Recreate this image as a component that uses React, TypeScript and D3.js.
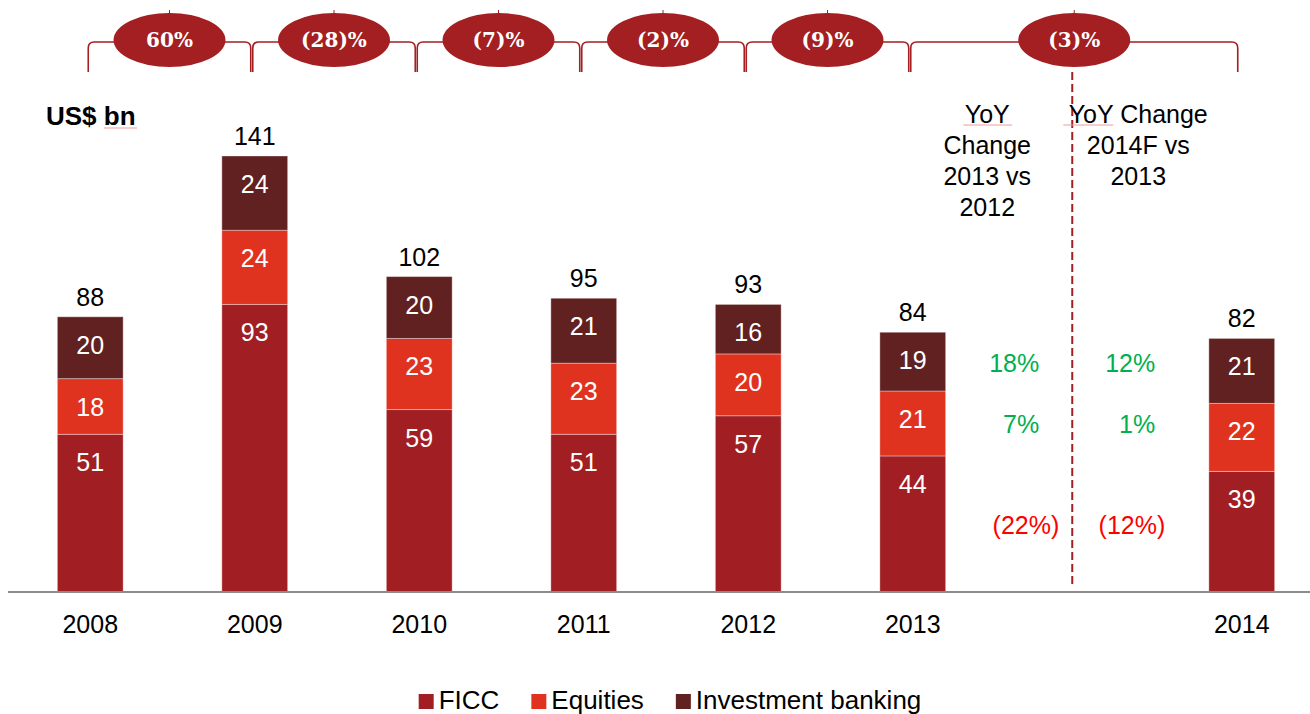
import React from "react";
import * as d3 from "d3";

const years = ["2008", "2009", "2010", "2011", "2012", "2013", "", "2014"];
const ficc = [51, 93, 59, 51, 57, 44, null, 39];
const equities = [18, 24, 23, 23, 20, 21, null, 22];
const ibanking = [20, 24, 20, 21, 16, 19, null, 21];
const totals = [88, 141, 102, 95, 93, 84, null, 82];

const growthLabels = ["60%", "(28)%", "(7)%", "(2)%", "(9)%", "(3)%"];
const growthSpans: [string, string][] = [
  ["2008", "2009"],
  ["2009", "2010"],
  ["2010", "2011"],
  ["2011", "2012"],
  ["2012", "2013"],
  ["2013", "2014"],
];

const yoy1312 = [-0.22, 0.07, 0.18]; // FICC, Equities, IB
const yoy1413 = [-0.12, 0.01, 0.12];

const seriesKeys = ["FICC", "Equities", "Investment banking"];
const seriesColors = ["#A11F22", "#DF3320", "#612120"];

const W = 1310;
const H = 714;
const FONT = "'Liberation Sans', Arial, Helvetica, sans-serif";
const DARKRED = "#A31F22";

function fmtPct(v: number) {
  const p = Math.round(Math.abs(v) * 100);
  return v < 0 ? `(${p}%)` : `${p}%`;
}

export default function App() {
  const x = d3
    .scaleBand<string>()
    .domain(years)
    .range([8, 1324])
    .paddingInner(0.6)
    .paddingOuter(0.3);
  const y = d3.scaleLinear().domain([0, 141]).range([592, 156]);
  const bw = x.bandwidth();
  const cx = (k: string) => (x(k) as number) + bw / 2;

  const rows = years.map((yr, i) => ({
    year: yr,
    FICC: ficc[i] ?? 0,
    Equities: equities[i] ?? 0,
    "Investment banking": ibanking[i] ?? 0,
  }));
  const stack = d3.stack<any>().keys(seriesKeys);
  const stacked = stack(rows);

  const dashX = (cx("2013") + cx("2014")) / 2 - 5;

  const i2013 = years.indexOf("2013");
  const segCenter2013 = stacked.map((s) => (y(s[i2013][0]) + y(s[i2013][1])) / 2);

  // legend layout
  const legendFont = 26;
  const ctx = typeof document !== "undefined" ? document.createElement("canvas").getContext("2d") : null;
  const measure = (t: string) => {
    if (ctx) {
      ctx.font = `${legendFont}px ${FONT}`;
      return ctx.measureText(t).width;
    }
    return t.length * legendFont * 0.55;
  };
  const sq = 15;
  const gapIn = 5;
  const gapOut = 32;
  const widths = seriesKeys.map((k) => sq + gapIn + measure(k));
  const totalW = widths.reduce((a, b) => a + b, 0) + gapOut * (seriesKeys.length - 1);
  let lx = 670 - totalW / 2;
  const legendItems = seriesKeys.map((k, i) => {
    const item = { k, x: lx, color: seriesColors[i] };
    lx += widths[i] + gapOut;
    return item;
  });

  return (
    <svg
      width={W}
      height={H}
      style={{ position: "absolute", left: 0, top: 0, background: "#fff" }}
      fontFamily={FONT}
    >
      {/* growth braces */}
      {growthSpans.map(([a, b], i) => {
        const xs = cx(a) - 2;
        const xe = cx(b) - 4;
        const yt = 42;
        const yb = 72;
        const r = 6;
        const d = `M${xs},${yb} L${xs},${yt + r} Q${xs},${yt} ${xs + r},${yt} L${xe - r},${yt} Q${xe},${yt} ${xe},${yt + r} L${xe},${yb}`;
        const mid = (xs + xe) / 2;
        return (
          <g key={i}>
            <path d={d} fill="none" stroke={DARKRED} strokeWidth={1.6} />
            <line x1={mid} x2={mid} y1={10} y2={16} stroke={DARKRED} strokeWidth={1} />
            <ellipse cx={mid} cy={40} rx={56} ry={27} fill={DARKRED} />
            <text
              x={mid}
              y={47}
              textAnchor="middle"
              fill="#fff"
              fontFamily="'DejaVu Serif', Georgia, serif"
              fontWeight="bold"
              fontSize={20}
            >
              {growthLabels[i]}
            </text>
          </g>
        );
      })}

      {/* dashed separator */}
      <line x1={dashX} x2={dashX} y1={72} y2={587} stroke={DARKRED} strokeWidth={2} strokeDasharray="8,4" />

      {/* unit label */}
      <text x={46} y={125} fontSize={26} fontWeight="bold" fill="#000">
        US$ bn
      </text>
      <line x1={104} x2={137} y1={128} y2={128} stroke="#f19a9a" strokeWidth={1} />

      {/* bars */}
      {stacked.map((s, si) => (
        <g key={s.key}>
          {s.map((d, i) => {
            if (years[i] === "") return null;
            const top = y(d[1]);
            const bot = y(d[0]);
            return (
              <g key={i}>
                <rect
                  x={x(years[i])}
                  y={top}
                  width={bw}
                  height={bot - top}
                  fill={seriesColors[si]}
                  stroke="rgba(255,255,255,0.35)"
                  strokeWidth={1}
                />
                <text x={cx(years[i])} y={top + 37} textAnchor="middle" fill="#fff" fontSize={25}>
                  {d[1] - d[0]}
                </text>
              </g>
            );
          })}
        </g>
      ))}

      {/* totals */}
      {years.map((yr, i) =>
        yr === "" || totals[i] == null ? null : (
          <text
            key={yr}
            x={cx(yr)}
            y={y(stacked[stacked.length - 1][i][1]) - 11}
            textAnchor="middle"
            fontSize={25}
            fill="#000"
          >
            {totals[i]}
          </text>
        )
      )}

      {/* axis */}
      <line x1={8} x2={W} y1={y(0)} y2={y(0)} stroke="#8c8c8c" strokeWidth={2} />
      {years.map((yr) =>
        yr === "" ? null : (
          <text key={yr} x={cx(yr)} y={633} textAnchor="middle" fontSize={25} fill="#000">
            {yr}
          </text>
        )
      )}

      {/* YoY headers */}
      {["YoY", "Change", "2013 vs", "2012"].map((t, i) => (
        <text key={t} x={dashX - 85} y={123 + i * 31} textAnchor="middle" fontSize={25} fill="#000">
          {t}
        </text>
      ))}
      {["YoY Change", "2014F vs", "2013"].map((t, i) => (
        <text key={t} x={dashX + 66} y={123 + i * 31} textAnchor="middle" fontSize={25} fill="#000">
          {t}
        </text>
      ))}
      <line x1={dashX - 109} x2={dashX - 60} y1={125} y2={125} stroke="#f19a9a" strokeWidth={1} />
      <line x1={dashX - 9} x2={dashX + 41} y1={125} y2={125} stroke="#f19a9a" strokeWidth={1} />

      {/* YoY values */}
      {[yoy1312, yoy1413].map((arr, ci) =>
        arr.map((v, si) => {
          const right = ci === 0 ? dashX - 13 : dashX + 93;
          const pad = v >= 0 ? (ci === 0 ? 20 : 10) : 0;
          return (
            <text
              key={`${ci}-${si}`}
              x={right - pad}
              y={segCenter2013[si] + 10}
              textAnchor="end"
              fontSize={25}
              fill={v < 0 ? "#FF0000" : "#00B050"}
            >
              {fmtPct(v)}
            </text>
          );
        })
      )}

      {/* legend */}
      {legendItems.map((it) => (
        <g key={it.k}>
          <rect x={it.x} y={694} width={sq} height={sq} fill={it.color} />
          <text x={it.x + sq + gapIn} y={709} fontSize={legendFont} fill="#000">
            {it.k}
          </text>
        </g>
      ))}
    </svg>
  );
}
